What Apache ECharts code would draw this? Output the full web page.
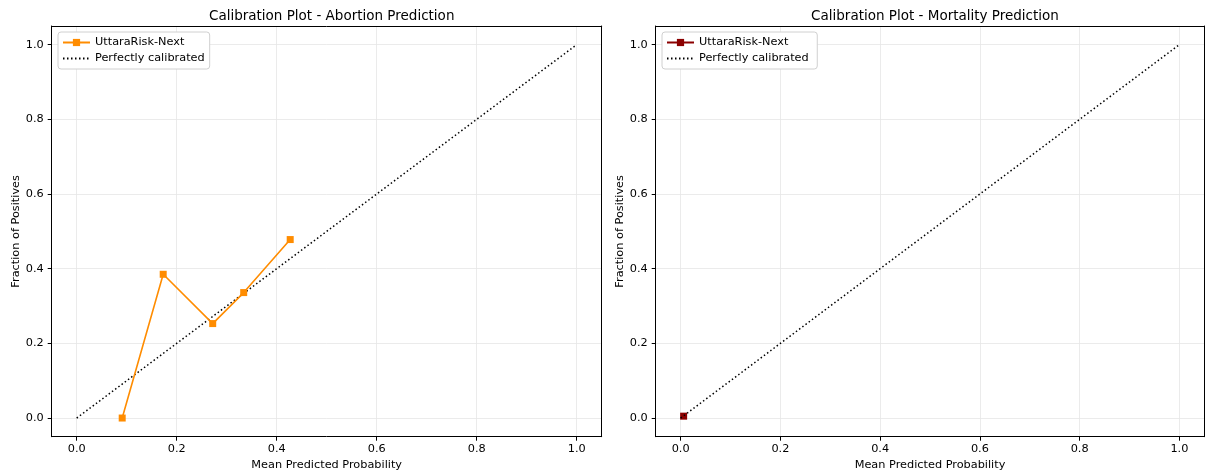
<!DOCTYPE html>
<html>
<head>
<meta charset="utf-8">
<script src="https://cdn.jsdelivr.net/npm/echarts@6/dist/echarts.min.js"></script>
<style>
  html, body { margin: 0; padding: 0; background: #fff; }
  #chart { width: 1205px; height: 476px; }
</style>
</head>
<body>
<div id="chart"></div>
<script>
// Datos
var tickValues = [0, 0.2, 0.4, 0.6, 0.8, 1.0];
var diagonal = [[0, 0], [1, 1]];

var abortionPredicted = [0.091, 0.173, 0.272, 0.334, 0.427];
var abortionObserved = [0.0, 0.385, 0.253, 0.336, 0.478];

var mortalityPredicted = [0.006];
var mortalityObserved = [0.005];

var titles = ["Calibration Plot - Abortion Prediction", "Calibration Plot - Mortality Prediction"];
var modelName = "UttaraRisk-Next";
var refName = "Perfectly calibrated";

var FONT = "DejaVu Sans";
var FS = 11.3;

function pairs(xs, ys) {
  var out = [];
  for (var i = 0; i < xs.length; i++) out.push([xs[i], ys[i]]);
  return out;
}

function makeAxis(idx, name, isY) {
  return {
    type: "value",
    gridIndex: idx,
    min: -0.05,
    max: 1.05,
    name: name,
    nameLocation: "middle",
    nameGap: isY ? 30 : 21,
    nameTextStyle: { fontFamily: FONT, fontSize: FS, color: "#000" },
    axisLine: { show: true, onZero: false, lineStyle: { color: "#000", width: 1 } },
    axisTick: { show: true, customValues: tickValues, length: 4, lineStyle: { color: "#000", width: 1 } },
    axisLabel: {
      customValues: tickValues,
      fontFamily: FONT, fontSize: FS, color: "#000",
      margin: isY ? 8 : 7,
      formatter: function (v) { return v.toFixed(1); }
    },
    splitLine: { show: true, lineStyle: { color: "#e6e6e6", width: 0.8 } }
  };
}

// Marco superior/derecho de cada eje
function frameAxis(idx, isY) {
  return {
    type: "value", gridIndex: idx, min: -0.05, max: 1.05,
    position: isY ? "right" : "top",
    axisLine: { show: true, onZero: false, lineStyle: { color: "#000", width: 1 } },
    axisTick: { show: false }, axisLabel: { show: false }, splitLine: { show: false }
  };
}

function makeLegend(left, names) {
  return {
    left: left, top: 32, orient: "vertical", itemWidth: 27, itemHeight: 9, itemGap: 5,
    padding: [5, 5, 5, 4], backgroundColor: "#fff", borderColor: "#d0d0d0", borderWidth: 1, borderRadius: 3,
    textStyle: { fontFamily: FONT, fontSize: FS, color: "#000" },
    data: names
  };
}

var option = {
  backgroundColor: "#fff",
  animation: false,
  title: [
    { text: titles[0], left: 326.7, top: 4, textAlign: "center",
      textStyle: { fontFamily: FONT, fontSize: 13.5, fontWeight: "normal", color: "#000" } },
    { text: titles[1], left: 930, top: 4, textAlign: "center",
      textStyle: { fontFamily: FONT, fontSize: 13.5, fontWeight: "normal", color: "#000" } }
  ],
  legend: [
    makeLegend(58, [modelName, refName]),
    makeLegend(662, [modelName + " ", refName + " "])
  ],
  grid: [
    { left: 51.7, top: 26, width: 550, height: 410.7 },
    { left: 655.7, top: 26, width: 548.6, height: 410.7 }
  ],
  xAxis: [
    makeAxis(0, "Mean Predicted Probability", false),
    makeAxis(1, "Mean Predicted Probability", false),
    frameAxis(0, false),
    frameAxis(1, false)
  ],
  yAxis: [
    makeAxis(0, "Fraction of Positives", true),
    makeAxis(1, "Fraction of Positives", true),
    frameAxis(0, true),
    frameAxis(1, true)
  ],
  series: [
    { name: modelName, type: "line", xAxisIndex: 0, yAxisIndex: 0,
      data: pairs(abortionPredicted, abortionObserved),
      symbol: "rect", symbolSize: 7, color: "#ff8c00",
      lineStyle: { color: "#ff8c00", width: 1.6 }, itemStyle: { color: "#ff8c00" }, z: 3 },
    { name: refName, type: "line", xAxisIndex: 0, yAxisIndex: 0,
      data: diagonal, symbol: "none", color: "#000",
      itemStyle: { color: "rgba(0,0,0,0)", borderWidth: 0 },
      lineStyle: { color: "#000", width: 1.5, type: [1.5, 2.5] }, z: 2 },
    { name: modelName + " ", type: "line", xAxisIndex: 1, yAxisIndex: 1,
      data: pairs(mortalityPredicted, mortalityObserved),
      symbol: "rect", symbolSize: 7, color: "#8b0000",
      lineStyle: { color: "#8b0000", width: 1.6 }, itemStyle: { color: "#8b0000" }, z: 2 },
    { name: refName + " ", type: "line", xAxisIndex: 1, yAxisIndex: 1,
      data: diagonal, symbol: "none", color: "#000",
      itemStyle: { color: "rgba(0,0,0,0)", borderWidth: 0 },
      lineStyle: { color: "#000", width: 1.5, type: [1.5, 2.5] }, z: 3 }
  ]
};

var chart = echarts.init(document.getElementById("chart"), null, { renderer: "canvas" });
chart.setOption(option);
</script>
</body>
</html>
